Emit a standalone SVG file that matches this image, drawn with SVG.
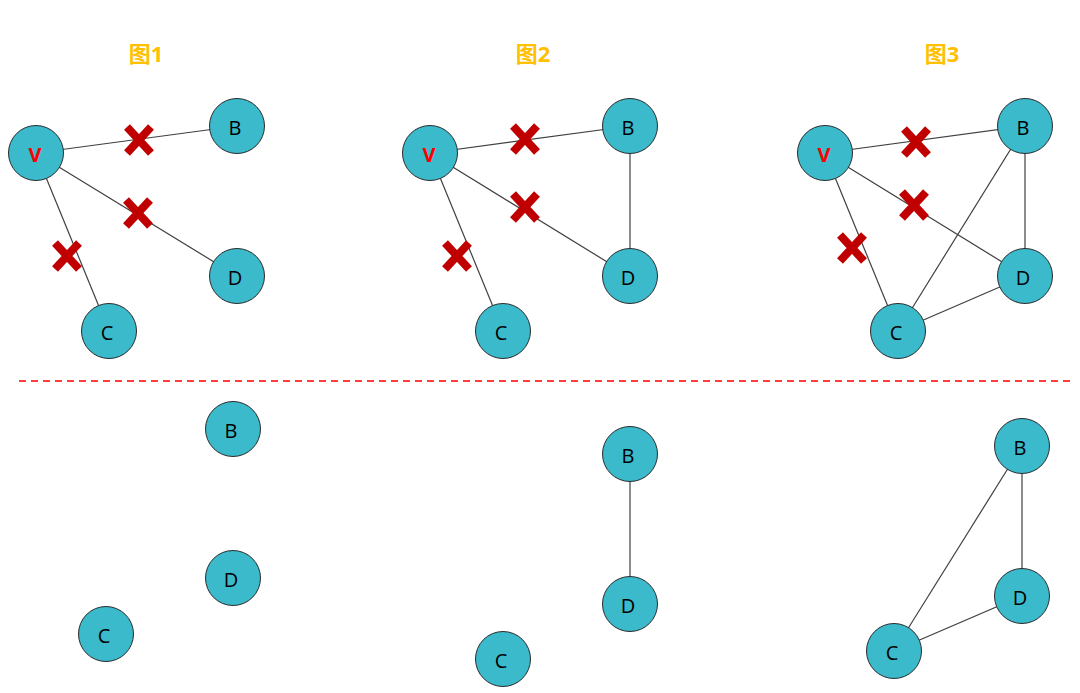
<svg xmlns="http://www.w3.org/2000/svg" width="1080" height="693" viewBox="0 0 1080 693">
<defs>
<style>
.n{fill:#3bbacc;stroke:#2b2b2b;stroke-width:1}
.t{font-family:"Open Sans","Liberation Sans","DejaVu Sans",sans-serif;font-size:20px;fill:#000;text-anchor:middle;dominant-baseline:central}
.v{fill:#ff0000;font-weight:bold}
.e{stroke:#404040;stroke-width:1.2;fill:none}
.x{stroke:#c00000;stroke-width:8;fill:none}
.ti{font-family:"Open Sans","Noto Sans CJK SC",sans-serif;font-size:22px;font-weight:bold;fill:#ffc000;text-anchor:middle}
</style>
<path id="xm" d="M-12,-13 L12,13 M12,-13 L-12,13"/>
</defs>
<rect width="1080" height="693" fill="#fff"/>
<g id="titles">
<text class="ti" x="146" y="62">图1</text>
<text class="ti" x="533" y="62">图2</text>
<text class="ti" x="942" y="62">图3</text>
</g>
<g id="connectors">
<line class="e" x1="36" y1="153" x2="237" y2="126"/>
<line class="e" x1="36" y1="153" x2="237" y2="276"/>
<line class="e" x1="36" y1="153" x2="109" y2="331"/>
<line class="e" x1="430" y1="153" x2="630" y2="126"/>
<line class="e" x1="430" y1="153" x2="630" y2="276"/>
<line class="e" x1="430" y1="153" x2="503" y2="331"/>
<line class="e" x1="630" y1="126" x2="630" y2="276"/>
<line class="e" x1="825" y1="153" x2="1025" y2="126"/>
<line class="e" x1="825" y1="153" x2="1025" y2="276"/>
<line class="e" x1="825" y1="153" x2="898" y2="331"/>
<line class="e" x1="1025" y1="126" x2="1025" y2="276"/>
<line class="e" x1="1025" y1="126" x2="898" y2="331"/>
<line class="e" x1="1025" y1="276" x2="898" y2="331"/>
<line class="e" x1="630" y1="454" x2="630" y2="604"/>
<line class="e" x1="1022" y1="446" x2="1022" y2="596"/>
<line class="e" x1="1022" y1="446" x2="894" y2="651"/>
<line class="e" x1="1022" y1="596" x2="894" y2="651"/>
<line x1="19" y1="381" x2="1072" y2="381" stroke="#ff0000" stroke-width="1.5" stroke-dasharray="7,5"/>
</g>
<g id="crosses">
<use href="#xm" class="x" x="139" y="140"/>
<use href="#xm" class="x" x="138" y="213"/>
<use href="#xm" class="x" x="67" y="256"/>
<use href="#xm" class="x" x="525" y="139"/>
<use href="#xm" class="x" x="525" y="207"/>
<use href="#xm" class="x" x="457" y="256"/>
<use href="#xm" class="x" x="916" y="142"/>
<use href="#xm" class="x" x="914" y="205"/>
<use href="#xm" class="x" x="852" y="248"/>
</g>
<g id="n1V"><circle class="n" cx="36" cy="153" r="27.5"/><text class="t v" x="35" y="154">V</text></g>
<g id="n1B"><circle class="n" cx="237" cy="126" r="27.5"/><text class="t" x="235" y="127">B</text></g>
<g id="n1D"><circle class="n" cx="237" cy="276" r="27.5"/><text class="t" x="235" y="277">D</text></g>
<g id="n1C"><circle class="n" cx="109" cy="331" r="27.5"/><text class="t" x="107" y="332">C</text></g>
<g id="n2V"><circle class="n" cx="430" cy="153" r="27.5"/><text class="t v" x="429" y="154">V</text></g>
<g id="n2B"><circle class="n" cx="630" cy="126" r="27.5"/><text class="t" x="628" y="127">B</text></g>
<g id="n2D"><circle class="n" cx="630" cy="276" r="27.5"/><text class="t" x="628" y="277">D</text></g>
<g id="n2C"><circle class="n" cx="503" cy="331" r="27.5"/><text class="t" x="501" y="332">C</text></g>
<g id="n3V"><circle class="n" cx="825" cy="153" r="27.5"/><text class="t v" x="824" y="154">V</text></g>
<g id="n3B"><circle class="n" cx="1025" cy="126" r="27.5"/><text class="t" x="1023" y="127">B</text></g>
<g id="n3D"><circle class="n" cx="1025" cy="276" r="27.5"/><text class="t" x="1023" y="277">D</text></g>
<g id="n3C"><circle class="n" cx="898" cy="331" r="27.5"/><text class="t" x="896" y="332">C</text></g>
<g id="n4B"><circle class="n" cx="233" cy="429" r="27.5"/><text class="t" x="231" y="430">B</text></g>
<g id="n4D"><circle class="n" cx="233" cy="578" r="27.5"/><text class="t" x="231" y="579">D</text></g>
<g id="n4C"><circle class="n" cx="106" cy="634" r="27.5"/><text class="t" x="104" y="635">C</text></g>
<g id="n5B"><circle class="n" cx="630" cy="454" r="27.5"/><text class="t" x="628" y="455">B</text></g>
<g id="n5D"><circle class="n" cx="630" cy="604" r="27.5"/><text class="t" x="628" y="605">D</text></g>
<g id="n5C"><circle class="n" cx="503" cy="659" r="27.5"/><text class="t" x="501" y="660">C</text></g>
<g id="n6B"><circle class="n" cx="1022" cy="446" r="27.5"/><text class="t" x="1020" y="447">B</text></g>
<g id="n6D"><circle class="n" cx="1022" cy="596" r="27.5"/><text class="t" x="1020" y="597">D</text></g>
<g id="n6C"><circle class="n" cx="894" cy="651" r="27.5"/><text class="t" x="892" y="652">C</text></g>
</svg>
